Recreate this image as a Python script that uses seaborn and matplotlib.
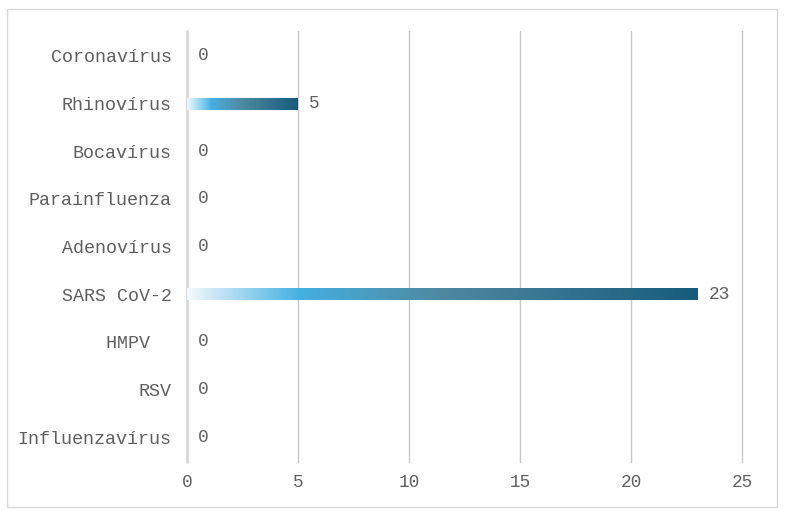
import matplotlib
matplotlib.use("Agg")
import matplotlib.pyplot as plt
import seaborn as sns
import numpy as np
import pandas as pd
from matplotlib.colors import LinearSegmentedColormap
from matplotlib.patches import Rectangle

# -----------------------------
# Data
# -----------------------------
viruses = [
    "Coronavírus",
    "Rhinovírus",
    "Bocavírus",
    "Parainfluenza",
    "Adenovírus",
    "SARS CoV-2",
    "HMPV  ",
    "RSV",
    "Influenzavírus",
]
counts = [0, 5, 0, 0, 0, 23, 0, 0, 0]
x_ticks = [0, 5, 10, 15, 20, 25]

df = pd.DataFrame({"virus": viruses, "count": counts})

# -----------------------------
# Style
# -----------------------------
sns.set_style("white")
plt.rcParams["font.family"] = ["Liberation Mono", "DejaVu Sans"]
text_color = "#606060"

fig = plt.figure(figsize=(7.86, 5.11), dpi=100)
ax = fig.add_axes([0.2379, 0.096, 0.944 - 0.2379, 0.939 - 0.096])

sns.barplot(
    data=df,
    x="count",
    y="virus",
    order=viruses,
    orient="h",
    width=0.25,
    color="#1a5e80",
    ax=ax,
)

# gradient fill for each bar
grad = LinearSegmentedColormap.from_list(
    "bar_grad",
    [(0.0, "#f4f9fd"), (0.22, "#45b0e0"), (0.5, "#4f88a0"), (1.0, "#175c7d")],
)
gradient = np.linspace(0, 1, 256).reshape(1, -1)

for patch in ax.patches:
    w = patch.get_width()
    if w <= 0:
        patch.set_visible(False)
        continue
    x0, y0 = patch.get_x(), patch.get_y()
    h = patch.get_height()
    patch.set_facecolor("none")
    patch.set_edgecolor("none")
    img = ax.imshow(
        gradient,
        cmap=grad,
        aspect="auto",
        extent=[x0, x0 + w, y0 + h, y0],
        zorder=3,
        interpolation="bicubic",
    )
    img.set_clip_path(patch)

# value labels
for container in ax.containers:
    ax.bar_label(container, labels=[str(c) for c in counts], padding=8,
                 color=text_color, fontsize=12.8)

ax.set_xlim(0, 25)
ax.set_ylim(len(viruses) - 0.48, -0.52)
ax.set_xticks(x_ticks)
ax.set_xticklabels([str(t) for t in x_ticks])

ax.grid(axis="x", color="#c8c8c8", linewidth=1.0)
ax.grid(axis="y", visible=False)
ax.set_axisbelow(True)
for gl in ax.get_xgridlines():
    gl.set_clip_on(False)
ax.axvline(0, color="#d9d9d9", linewidth=2.0, zorder=2, clip_on=False)

for s in ax.spines.values():
    s.set_visible(False)

ax.tick_params(axis="both", length=0, labelcolor=text_color, labelsize=12.8)
ax.tick_params(axis="y", labelsize=13.2, pad=11)
ax.tick_params(axis="x", pad=9)
ax.set_xlabel("")
ax.set_ylabel("")

# figure border
fig.patches.append(
    Rectangle(
        (7 / 786, 1 - 507 / 511),
        770 / 786,
        498 / 511,
        transform=fig.transFigure,
        fill=False,
        edgecolor="#d9d9d9",
        linewidth=1.0,
    )
)

fig.savefig("out.png", dpi=100)
plt.close(fig)
